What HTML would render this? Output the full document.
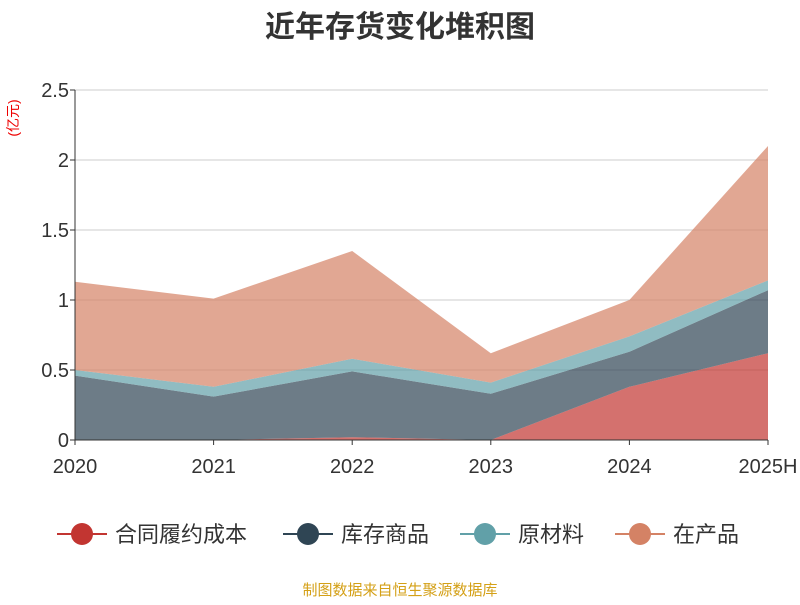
<!DOCTYPE html>
<html><head><meta charset="utf-8"><style>
body{margin:0;background:#fff;}
svg text{font-family:"Liberation Sans","Noto Sans CJK SC",sans-serif;}
</style></head><body>
<svg width="800" height="600" xmlns="http://www.w3.org/2000/svg">
<text x="400" y="37" text-anchor="middle" font-size="30" font-weight="bold" fill="#333">近年存货变化堆积图</text>
<text transform="translate(18,118) rotate(-90)" text-anchor="middle" font-size="14" fill="#e00">(亿元)</text>
<g id="grid"></g><g id="areas"></g><g id="axes"></g>
<g id="legend"></g>
<text x="400" y="595" text-anchor="middle" font-size="15" fill="#d4a017">制图数据来自恒生聚源数据库</text>
</svg>
<script>
const categories=["2020","2021","2022","2023","2024","2025H"];
const seriesNames=["合同履约成本","库存商品","原材料","在产品"];
const s1=[0,0,0.02,0,0.38,0.62];
const s2=[0.46,0.31,0.47,0.33,0.25,0.45];
const s3=[0.04,0.07,0.09,0.08,0.11,0.07];
const s4=[0.63,0.63,0.77,0.21,0.26,0.96];
const yTicks=[0,0.5,1,1.5,2,2.5];
const yTickLabels=["0","0.5","1","1.5","2","2.5"];
const colors=["#c23531","#2f4554","#61a0a8","#d48265"];
const NS="http://www.w3.org/2000/svg";
const x0=75,x1=768,y0=440,yTop=90,yMax=2.5;
const X=i=>x0+i*(x1-x0)/(categories.length-1);
const Y=v=>y0-v*(y0-yTop)/yMax;
function mk(t,a,p){const e=document.createElementNS(NS,t);for(const k in a)e.setAttribute(k,a[k]);p.appendChild(e);return e;}
const grid=document.getElementById('grid'),axes=document.getElementById('axes'),areas=document.getElementById('areas');
yTicks.forEach((v,i)=>{
 if(v>0){const l=mk('line',{x1:x0,x2:x1,y1:Y(v),y2:Y(v),stroke:'#ccc'},grid);
 
 }
 const t=mk('text',{x:x0-6,y:Y(v)+7,'text-anchor':'end','font-size':20,fill:'#333'},axes);t.textContent=yTickLabels[i];
 
 
 mk('line',{x1:x0-5,x2:x0,y1:Y(v),y2:Y(v),stroke:'#333'},axes);
});
const all=[s1,s2,s3,s4];let base=categories.map(()=>0);
all.forEach((s,k)=>{
 const top=base.map((b,i)=>b+s[i]);
 let d='M'+top.map((v,i)=>X(i)+','+Y(v)).join('L');
 for(let i=categories.length-1;i>=0;i--)d+='L'+X(i)+','+Y(base[i]);
 const p=mk('path',{d:d+'Z',fill:colors[k],'fill-opacity':0.7},areas);
 
 
 base=top;
});
mk('line',{x1:x0,x2:x0,y1:yTop,y2:y0,stroke:'#333'},axes);
mk('line',{x1:x0,x2:x1,y1:y0,y2:y0,stroke:'#333'},axes);
categories.forEach((c,i)=>{
 mk('line',{x1:X(i),x2:X(i),y1:y0,y2:y0+5,stroke:'#333'},axes);
 const t=mk('text',{x:X(i),y:473,'text-anchor':'middle','font-size':20,fill:'#333'},axes);t.textContent=c;
 
 
});
const lg=document.getElementById('legend');const lx=[57,283,460,615];
seriesNames.forEach((n,k)=>{
 const g=mk('g',{},lg);
 
 
 mk('line',{x1:lx[k],x2:lx[k]+50,y1:534,y2:534,stroke:colors[k],'stroke-width':2},g);
 mk('circle',{cx:lx[k]+25,cy:534,r:11,fill:colors[k]},g);
 const t=mk('text',{x:lx[k]+58,y:542,'font-size':22,fill:'#333'},g);t.textContent=n;
});
</script>
</body></html>
